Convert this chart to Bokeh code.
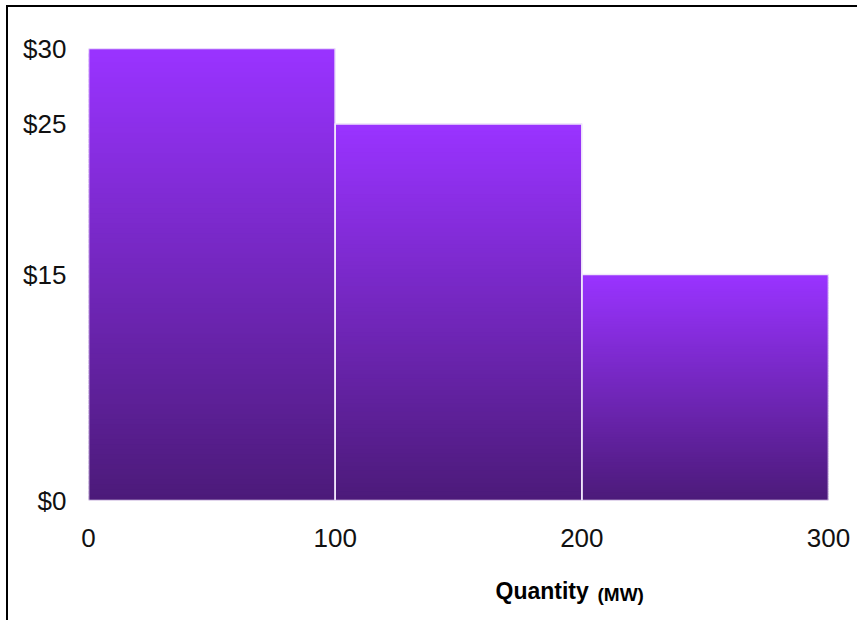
import numpy as np
from bokeh.plotting import figure
from bokeh.models import FixedTicker, Title
from bokeh.embed import file_html
from bokeh.resources import INLINE

# ---- data ----
quantity_edges = [0, 100, 200, 300]      # MW
prices = [30, 25, 15]                    # $/MWh
x_ticks = [0, 100, 200, 300]
y_ticks = [0, 15, 25, 30]
y_tick_labels = ["$0", "$15", "$25", "$30"]

TOP = np.array([0x99, 0x33, 0xFF])
BOTTOM = np.array([0x4B, 0x1A, 0x78])

p = figure(width=851, height=615, output_backend="svg", toolbar_location=None,
           x_range=(0, 300), y_range=(0, 30),
           min_border_left=80, min_border_right=31,
           min_border_top=41, min_border_bottom=122)
p.styles = {"margin-left": "6px", "margin-top": "5px",
            "border-left": "2px solid black", "border-top": "2px solid black"}

p.background_fill_color = "white"
p.border_fill_color = "white"
p.outline_line_color = None
p.grid.visible = False

# gradient bars: each bar split into horizontal slices, bright on top, dark at bottom
N = 90
lefts, rights, bottoms, tops, colors = [], [], [], [], []
for i, price in enumerate(prices):
    for k in range(N):
        f = (k + 0.5) / N
        c = BOTTOM + (TOP - BOTTOM) * f
        lefts.append(quantity_edges[i])
        rights.append(quantity_edges[i + 1])
        bottoms.append(max(0.0, price * (k - 0.8) / N))
        tops.append(price * (k + 1) / N)
        colors.append("#%02x%02x%02x" % tuple(int(round(v)) for v in c))
p.quad(left=lefts, right=rights, bottom=bottoms, top=tops,
       fill_color=colors, line_color=None)

# bar outlines
p.quad(left=quantity_edges[:-1], right=quantity_edges[1:], bottom=0, top=prices,
       fill_alpha=0, line_color="#f0e6fb", line_width=1.6)

# axes
font = "Liberation Sans"
for ax in (p.xaxis[0], p.yaxis[0]):
    ax.axis_line_color = None
    ax.major_tick_line_color = None
    ax.minor_tick_line_color = None
    ax.major_tick_out = 0
    ax.major_tick_in = 0
    ax.major_label_text_font = font
    ax.major_label_text_font_size = "26px"
    ax.major_label_text_color = "#111111"

p.xaxis.ticker = FixedTicker(ticks=x_ticks)
p.xaxis.major_label_standoff = 28
p.yaxis.ticker = FixedTicker(ticks=y_ticks)
p.yaxis.major_label_overrides = {t: l for t, l in zip(y_ticks, y_tick_labels)}
p.yaxis.major_label_standoff = 22

# axis title: "Quantity (MW)" (two sizes)
p.add_layout(Title(text="Quantity", align="left", offset=407, standoff=-109,
                   vertical_align="bottom",
                   text_font=font, text_font_style="bold", text_font_size="23px",
                   text_color="black"), "below")
p.add_layout(Title(text="(MW)", align="left", offset=509, standoff=-110,
                   vertical_align="bottom",
                   text_font=font, text_font_style="bold", text_font_size="19px",
                   text_color="black"), "below")

open("out.html", "w").write(file_html(p, INLINE))
